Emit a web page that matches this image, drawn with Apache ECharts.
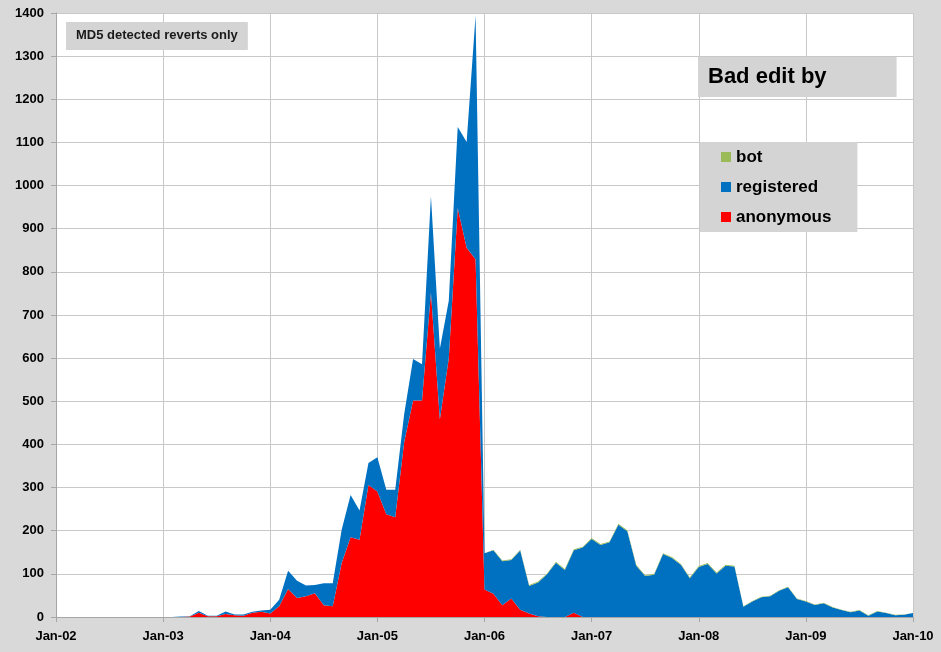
<!DOCTYPE html>
<html>
<head>
<meta charset="utf-8">
<script src="https://cdn.jsdelivr.net/npm/echarts@6/dist/echarts.min.js"></script>
<style>
  html, body { margin: 0; padding: 0; background: #d9d9d9; }
  #chart { width: 941px; height: 652px; }
</style>
</head>
<body>
<div id="chart"></div>
<script>
// months Jan-02 .. Jan-10
var monthNames = ['Jan', 'Feb', 'Mar', 'Apr', 'May', 'Jun', 'Jul', 'Aug', 'Sep', 'Oct', 'Nov', 'Dec'];
var years = ['02', '03', '04', '05', '06', '07', '08', '09', '10'];

var anonymous = [
  0, 0, 0, 0, 0, 0, 0, 0, 0, 0, 0, 0,
  0, 0, 0, 1, 10, 2, 2, 7, 4, 3, 10, 12,
  8, 25, 65, 44, 48, 55, 27, 25, 125, 185, 179, 306,
  291, 238, 231, 405, 502, 502, 752, 458, 600, 948, 856, 829,
  64, 54, 27, 43, 17, 8, 2, 0, 0, 0, 10, 0,
  0, 0, 0, 0, 0, 0, 0, 0, 0, 0, 0, 0,
  0, 0, 0, 0, 0, 0, 0, 0, 0, 0, 0, 0,
  0, 0, 0, 0, 0, 0, 0, 0, 0, 0, 0, 0,
  0
];
var registered = [
  0, 0, 0, 0, 0, 0, 0, 0, 0, 0, 0, 0,
  0, 0, 1, 1, 4, 1, 1, 6, 2, 3, 2, 3,
  9, 15, 42, 40, 25, 19, 51, 53, 77, 98, 68, 51,
  79, 57, 64, 65, 96, 84, 223, 164, 133, 188, 245, 565,
  84, 101, 102, 89, 137, 64, 78, 99, 126, 109, 145, 161,
  181, 167, 173, 214, 199, 119, 95, 98, 146, 137, 121, 90,
  116, 123, 101, 119, 117, 24, 36, 46, 48, 61, 69, 42,
  36, 28, 32, 22, 16, 11, 15, 3, 13, 9, 4, 5,
  9
];
var bot = [
  0, 0, 0, 0, 0, 0, 0, 0, 0, 0, 0, 0,
  0, 0, 0, 0, 0, 0, 0, 0, 0, 0, 0, 0,
  0, 0, 0, 0, 0, 0, 0, 0, 0, 0, 0, 0,
  0, 0, 0, 0, 0, 0, 0, 0, 0, 0, 0, 0,
  0, 1, 2, 2, 2, 2, 2, 2, 2, 2, 2, 2,
  2, 2, 2, 2, 2, 2, 2, 2, 2, 2, 2, 2,
  2, 2, 2, 2, 2, 1, 1, 1, 1, 1, 1, 1,
  1, 1, 1, 1, 1, 1, 1, 1, 1, 1, 1, 1,
  1
];

var categories = [];
years.forEach(function (y, i) {
  monthNames.forEach(function (m, j) {
    if (i < years.length - 1 || j === 0) categories.push(m + '-' + y);
  });
});

var myChart = echarts.init(document.getElementById('chart'));
var font = 'Liberation Sans';

function areaSeries(name, data, color) {
  return {
    name: name,
    type: 'line',
    stack: 'total',
    data: data,
    showSymbol: false,
    symbol: 'none',
    lineStyle: { width: 0 },
    areaStyle: { color: color, opacity: 1 },
    itemStyle: { color: color },
    emphasis: { disabled: true },
    animation: false
  };
}

var option = {
  backgroundColor: '#d9d9d9',
  textStyle: { fontFamily: font },
  title: [
    {
      text: 'MD5 detected reverts only',
      left: 66, top: 22,
      padding: [7, 10, 8, 10],
      backgroundColor: '#d4d4d4',
      textStyle: { fontSize: 13, fontWeight: 'bold', color: '#1a1a1a', fontFamily: font }
    },
    {
      text: 'Bad edit by',
      left: 698, top: 57,
      padding: [9, 70, 9, 10],
      backgroundColor: '#d4d4d4',
      textStyle: { fontSize: 22, fontWeight: 'bold', color: '#000', fontFamily: font }
    }
  ],
  legend: {
    orient: 'vertical',
    left: 700, top: 142,
    padding: [5, 26, 5, 21],
    backgroundColor: '#d4d4d4',
    itemWidth: 10, itemHeight: 10,
    itemGap: 10,
    icon: 'rect',
    data: ['bot', 'registered', 'anonymous'],
    textStyle: { fontSize: 17, fontWeight: 'bold', color: '#000', lineHeight: 20, fontFamily: font }
  },
  grid: {
    left: 56, right: 28, top: 13, bottom: 35,
    show: true, backgroundColor: '#ffffff', borderWidth: 0
  },
  xAxis: {
    type: 'category',
    boundaryGap: false,
    data: categories,
    axisLine: { lineStyle: { color: '#a6a6a6' } },
    axisTick: { interval: 11, length: 5, lineStyle: { color: '#a6a6a6' } },
    axisLabel: { interval: 11, margin: 13, fontSize: 13, fontWeight: 'bold', color: '#000', fontFamily: font },
    splitLine: { show: true, interval: 11, lineStyle: { color: '#c8c8c8' } }
  },
  yAxis: {
    type: 'value',
    min: 0, max: 1400, interval: 100,
    axisLine: { show: true, lineStyle: { color: '#a6a6a6' } },
    axisTick: { show: true, length: 5, lineStyle: { color: '#a6a6a6' } },
    axisLabel: {
      margin: 12, fontSize: 13, fontWeight: 'bold', color: '#000', fontFamily: font,
      formatter: function (v) { return String(v); }
    },
    splitLine: { lineStyle: { color: '#c8c8c8' } }
  },
  series: [
    areaSeries('anonymous', anonymous, '#ff0000'),
    areaSeries('registered', registered, '#0070c0'),
    areaSeries('bot', bot, '#9bbb59')
  ]
};

option && myChart.setOption(option);
</script>
</body>
</html>
